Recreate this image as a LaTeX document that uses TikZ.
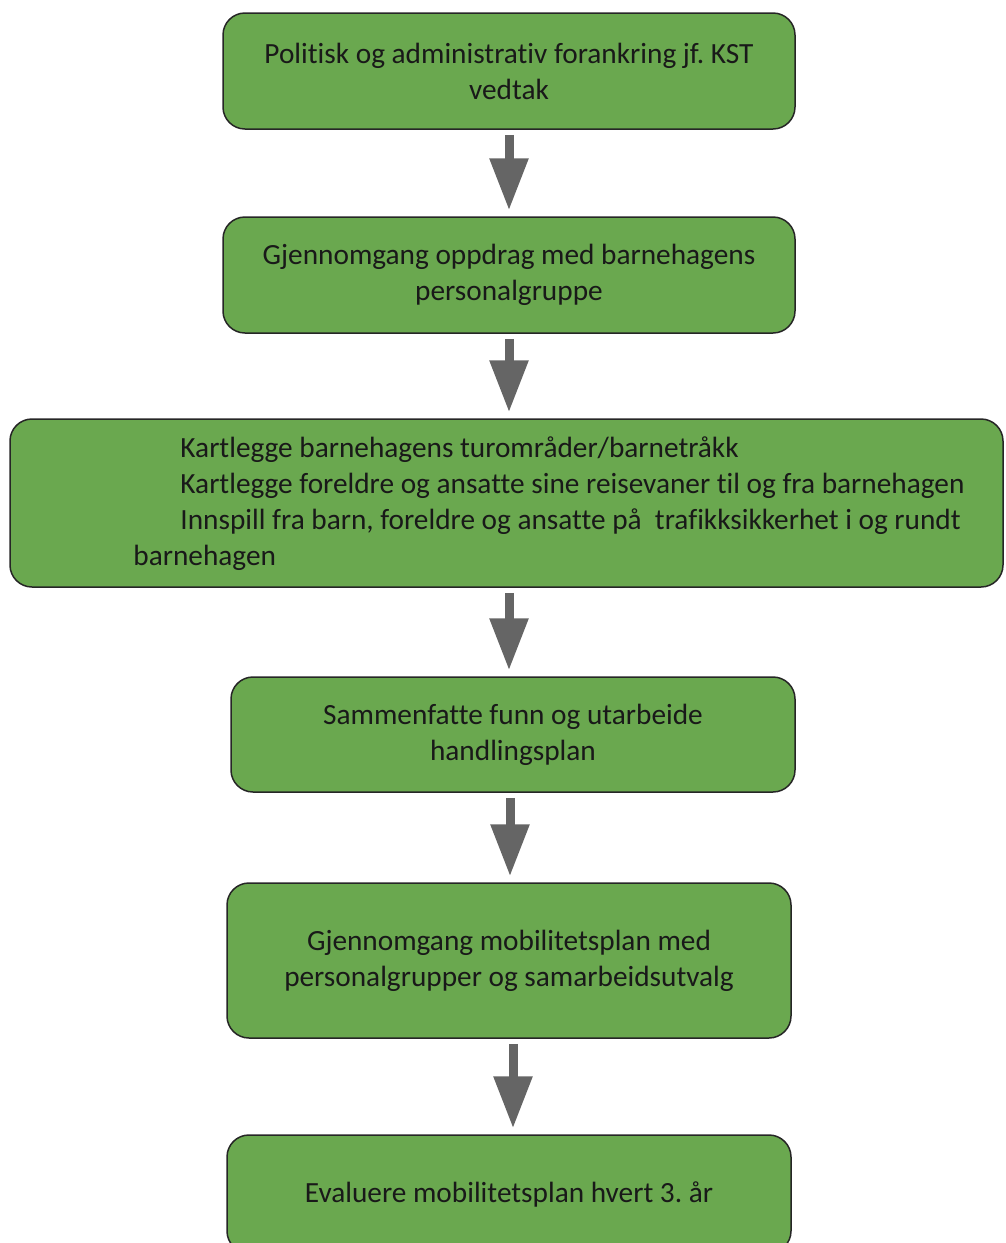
\documentclass[tikz,border=0pt]{standalone}
\usepackage{fontspec}
\setmainfont{Carlito}[Ligatures={NoCommon}]
\usepackage{xcolor}
\usetikzlibrary{arrows.meta}
\definecolor{boxgreen}{HTML}{6AA84F}
\definecolor{arrowgray}{HTML}{656565}
\frenchspacing

\begin{document}
\begin{tikzpicture}[x=1pt,y=-1pt,
  flowbox/.style={draw=black!85,line width=1.5pt,fill=boxgreen,rounded corners=22pt,align=center,inner sep=0pt,text=black!90,font=\fontsize{29.3}{36}\selectfont},
  flowtext/.style={anchor=west,align=left,inner sep=0pt,text=black!90,font=\fontsize{29.3}{36}\selectfont},
  flowarrow/.style={draw=arrowgray,line width=9pt,-{Triangle[length=52pt,width=37pt]},shorten <=5pt,shorten >=6pt}]
\clip (0,0) rectangle (1005,1243);
\node[flowbox,minimum width=572pt,minimum height=116pt] (b1) at (509,71) {Politisk og administrativ forankring jf. KST\\vedtak};
\node[flowbox,minimum width=572pt,minimum height=116pt] (b2) at (509,275) {Gjennomgang oppdrag med barnehagens\\personalgruppe};
\node[flowbox,minimum width=993pt,minimum height=168pt] (b3) at (506.5,503) {};
\node[flowtext] (b3text) at ([xshift=124pt,yshift=-1pt]b3.west) {\hspace*{47pt}Kartlegge barnehagens turområder/barnetråkk\\
  \hspace*{47pt}Kartlegge foreldre og ansatte sine reisevaner til og fra barnehagen\\
  \hspace*{47pt}Innspill fra barn, foreldre og ansatte på\ \ trafikksikkerhet i og rundt\\
  barnehagen};
\node[flowbox,minimum width=564pt,minimum height=115pt] (b4) at (513,734.5) {Sammenfatte funn og utarbeide\\handlingsplan};
\node[flowbox,minimum width=564pt,minimum height=155pt] (b5) at (509,960.5) {Gjennomgang mobilitetsplan med\\personalgrupper og samarbeidsutvalg};
\node[flowbox,minimum width=564pt,minimum height=118pt] (b6) at (509,1194) {Evaluere mobilitetsplan hvert 3. år};
\draw[flowarrow] (b1.south) -- (b1.south |- b2.north);
\draw[flowarrow] (b2.south) -- (b2.south |- b3.north);
\draw[flowarrow] (b1.south |- b3.south) -- (b1.south |- b4.north);
\draw[flowarrow] ([xshift=1pt]b1.south |- b4.south) -- ([xshift=1pt]b1.south |- b5.north);
\draw[flowarrow] ([xshift=4pt]b5.south) -- ([xshift=4pt]b5.south |- b6.north);
\end{tikzpicture}
\end{document}
